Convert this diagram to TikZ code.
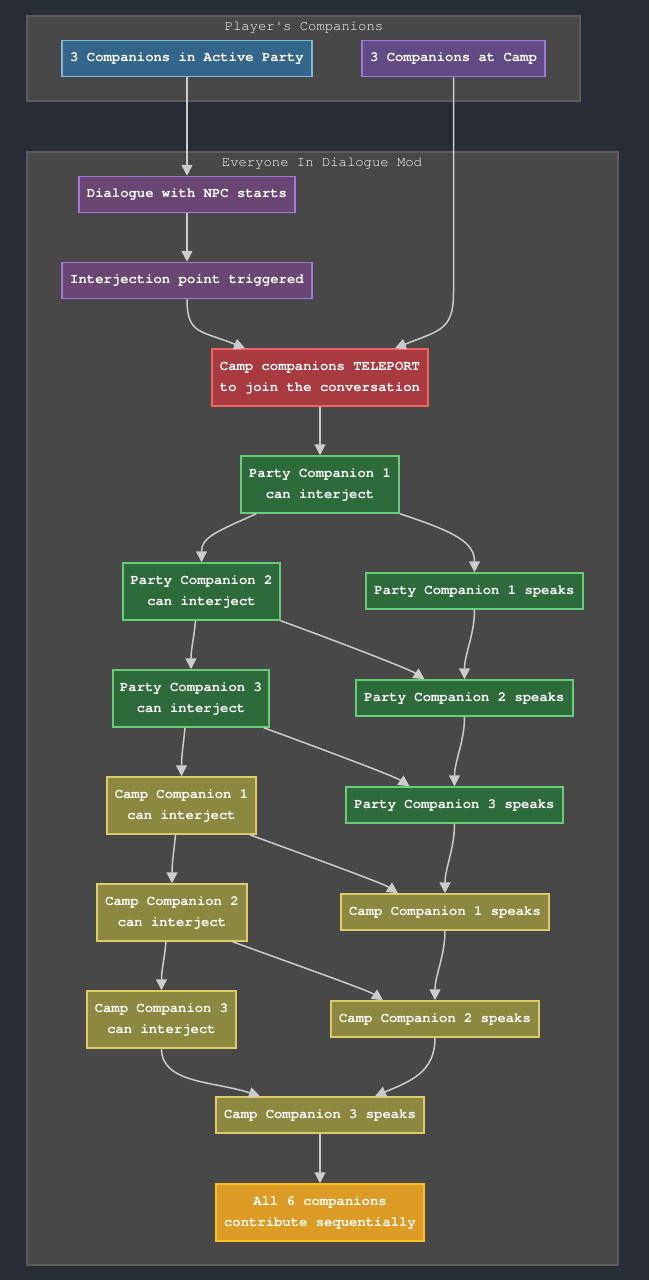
\documentclass[tikz,border=0pt]{standalone}
\usepackage{fontspec}
\setmainfont{TeX Gyre Cursor}
\usetikzlibrary{arrows.meta}

\definecolor{bgdark}{RGB}{40,44,52}
\definecolor{clusterfill}{RGB}{72,72,72}
\definecolor{clusterline}{RGB}{92,92,92}
\definecolor{edgegray}{RGB}{204,204,204}
\definecolor{bluefill}{RGB}{52,102,140}
\definecolor{blueline}{RGB}{126,184,218}
\definecolor{campfill}{RGB}{98,74,132}
\definecolor{campline}{RGB}{154,122,220}
\definecolor{dialfill}{RGB}{106,70,115}
\definecolor{dialline}{RGB}{160,122,220}
\definecolor{redfill}{RGB}{168,58,64}
\definecolor{redline}{RGB}{240,100,100}
\definecolor{greenfill}{RGB}{46,107,58}
\definecolor{greenline}{RGB}{104,204,120}
\definecolor{olivefill}{RGB}{140,136,64}
\definecolor{oliveline}{RGB}{220,204,104}
\definecolor{orangefill}{RGB}{220,155,36}
\definecolor{orangeline}{RGB}{248,192,32}

\tikzset{
    box/.style = {draw, rectangle, line width = 1.5pt, text = white, align = center,
        font = \fontsize{13.9}{21}\selectfont\bfseries, inner sep = 0pt},
    short/.style = {box, minimum height = 36pt},
    tall/.style = {box, minimum height = 57pt},
    cluster/.style = {draw = clusterline, fill = clusterfill, line width = 1.2pt},
    title/.style = {text = white, font = \fontsize{13.9}{16}\selectfont},
    flow/.style = {draw = edgegray, line width = 1.5pt, -{Triangle[length = 11pt, width = 11pt]}},
}

\begin{document}
\begin{tikzpicture}[x = 1pt, y = -1pt]
            \fill[bgdark] (0, 0) rectangle (649, 1280);
            \useasboundingbox (0, 0) rectangle (649, 1280);

            \draw[cluster] (27, 16) rectangle (580, 101);
            \draw[cluster] (27, 152) rectangle (618, 1265);
            \node (playerstitle) [title] at (304, 27.5) {Player\textquotesingle s Companions};
            \node (modtitle) [title] at (322, 163.5) {Everyone In Dialogue Mod};

            \draw
                (187, 58.5) node (active) [short, fill = bluefill, draw = blueline, minimum width = 250pt] {3 Companions in Active Party}
                (453.5, 58.5) node (camp) [short, fill = campfill, draw = campline, minimum width = 183pt] {3 Companions at Camp}

                (187, 194.5) node (dialogue) [short, fill = dialfill, draw = dialline, minimum width = 216pt] {Dialogue with NPC starts}
                (187, 280.5) node (interject) [short, fill = dialfill, draw = dialline, minimum width = 250pt] {Interjection point triggered}
                (320, 377.5) node (teleport) [tall, fill = redfill, draw = redline, minimum width = 216pt] {Camp companions TELEPORT\\to join the conversation}

                (320, 484.5) node (pc1) [tall, fill = greenfill, draw = greenline, minimum width = 158pt] {Party Companion 1\\can interject}
                (201.5, 591.5) node (pc2) [tall, fill = greenfill, draw = greenline, minimum width = 157pt] {Party Companion 2\\can interject}
                (191, 698.5) node (pc3) [tall, fill = greenfill, draw = greenline, minimum width = 156pt] {Party Companion 3\\can interject}
                (474.5, 591) node (pc1s) [short, fill = greenfill, draw = greenline, minimum width = 217pt] {Party Companion 1 speaks}
                (464.5, 698) node (pc2s) [short, fill = greenfill, draw = greenline, minimum width = 217pt] {Party Companion 2 speaks}
                (454.5, 805) node (pc3s) [short, fill = greenfill, draw = greenline, minimum width = 217pt] {Party Companion 3 speaks}

                (181.5, 805.5) node (cc1) [tall, fill = olivefill, draw = oliveline, minimum width = 149pt] {Camp Companion 1\\can interject}
                (172, 912.5) node (cc2) [tall, fill = olivefill, draw = oliveline, minimum width = 150pt] {Camp Companion 2\\can interject}
                (161.5, 1019.5) node (cc3) [tall, fill = olivefill, draw = oliveline, minimum width = 149pt] {Camp Companion 3\\can interject}
                (445, 912) node (cc1s) [short, fill = olivefill, draw = oliveline, minimum width = 208pt] {Camp Companion 1 speaks}
                (435, 1019) node (cc2s) [short, fill = olivefill, draw = oliveline, minimum width = 208pt] {Camp Companion 2 speaks}
                (320, 1115) node (cc3s) [short, fill = olivefill, draw = oliveline, minimum width = 208pt] {Camp Companion 3 speaks}

                (320, 1212.5) node (allsix) [tall, fill = orangefill, draw = orangeline, minimum width = 208pt] {All 6 companions\\contribute sequentially}
            ;

            \draw[flow] (active) -- (dialogue);
            \draw[flow] (dialogue) -- (interject);
            \draw[flow] (interject.south) .. controls +(0, 35) and +(-45, -18) .. ([xshift = -75pt]teleport.north);
            \draw[flow] (camp.south) -- ++(0, 215) .. controls +(0, 38) and +(45, -18) .. ([xshift = 75pt]teleport.north);
            \draw[flow] (teleport) -- (pc1);

            \draw[flow] ([xshift = 16pt]pc1.south west) .. controls +(-40, 18) and +(0, -25) .. (pc2.north);
            \draw[flow] (pc1.south east) .. controls +(55, 18) and +(0, -30) .. (pc1s.north);
            \draw[flow] ([xshift = -6pt]pc2.south) .. controls +(-2, 20) and +(0, -20) .. (pc3.north);
            \draw[flow] (pc2.south east) .. controls +(60, 22) and +(-15, -10) .. ([xshift = -40pt]pc2s.north);
            \draw[flow] (pc1s.south) .. controls +(0, 25) and +(0, -25) .. (pc2s.north);
            \draw[flow] ([xshift = -6pt]pc3.south) .. controls +(-2, 20) and +(0, -20) .. (cc1.north);
            \draw[flow] ([xshift = -6pt]pc3.south east) .. controls +(60, 22) and +(-15, -10) .. ([xshift = -45pt]pc3s.north);
            \draw[flow] (pc2s.south) .. controls +(0, 25) and +(0, -25) .. (pc3s.north);

            \draw[flow] ([xshift = -6pt]cc1.south) .. controls +(-2, 20) and +(0, -20) .. (cc2.north);
            \draw[flow] ([xshift = -7pt]cc1.south east) .. controls +(60, 22) and +(-15, -10) .. ([xshift = -47pt]cc1s.north);
            \draw[flow] (pc3s.south) .. controls +(0, 25) and +(0, -25) .. (cc1s.north);
            \draw[flow] ([xshift = -6pt]cc2.south) .. controls +(-2, 20) and +(0, -20) .. (cc3.north);
            \draw[flow] ([xshift = -15pt]cc2.south east) .. controls +(60, 22) and +(-15, -10) .. ([xshift = -52pt]cc2s.north);
            \draw[flow] (cc1s.south) .. controls +(0, 25) and +(0, -25) .. (cc2s.north);
            \draw[flow] (cc3.south) .. controls +(0, 35) and +(-45, -15) .. ([xshift = -60pt]cc3s.north);
            \draw[flow] (cc2s.south) .. controls +(0, 35) and +(35, -15) .. ([xshift = 55pt]cc3s.north);
            \draw[flow] (cc3s) -- (allsix);

        \end{tikzpicture}
\end{document}
